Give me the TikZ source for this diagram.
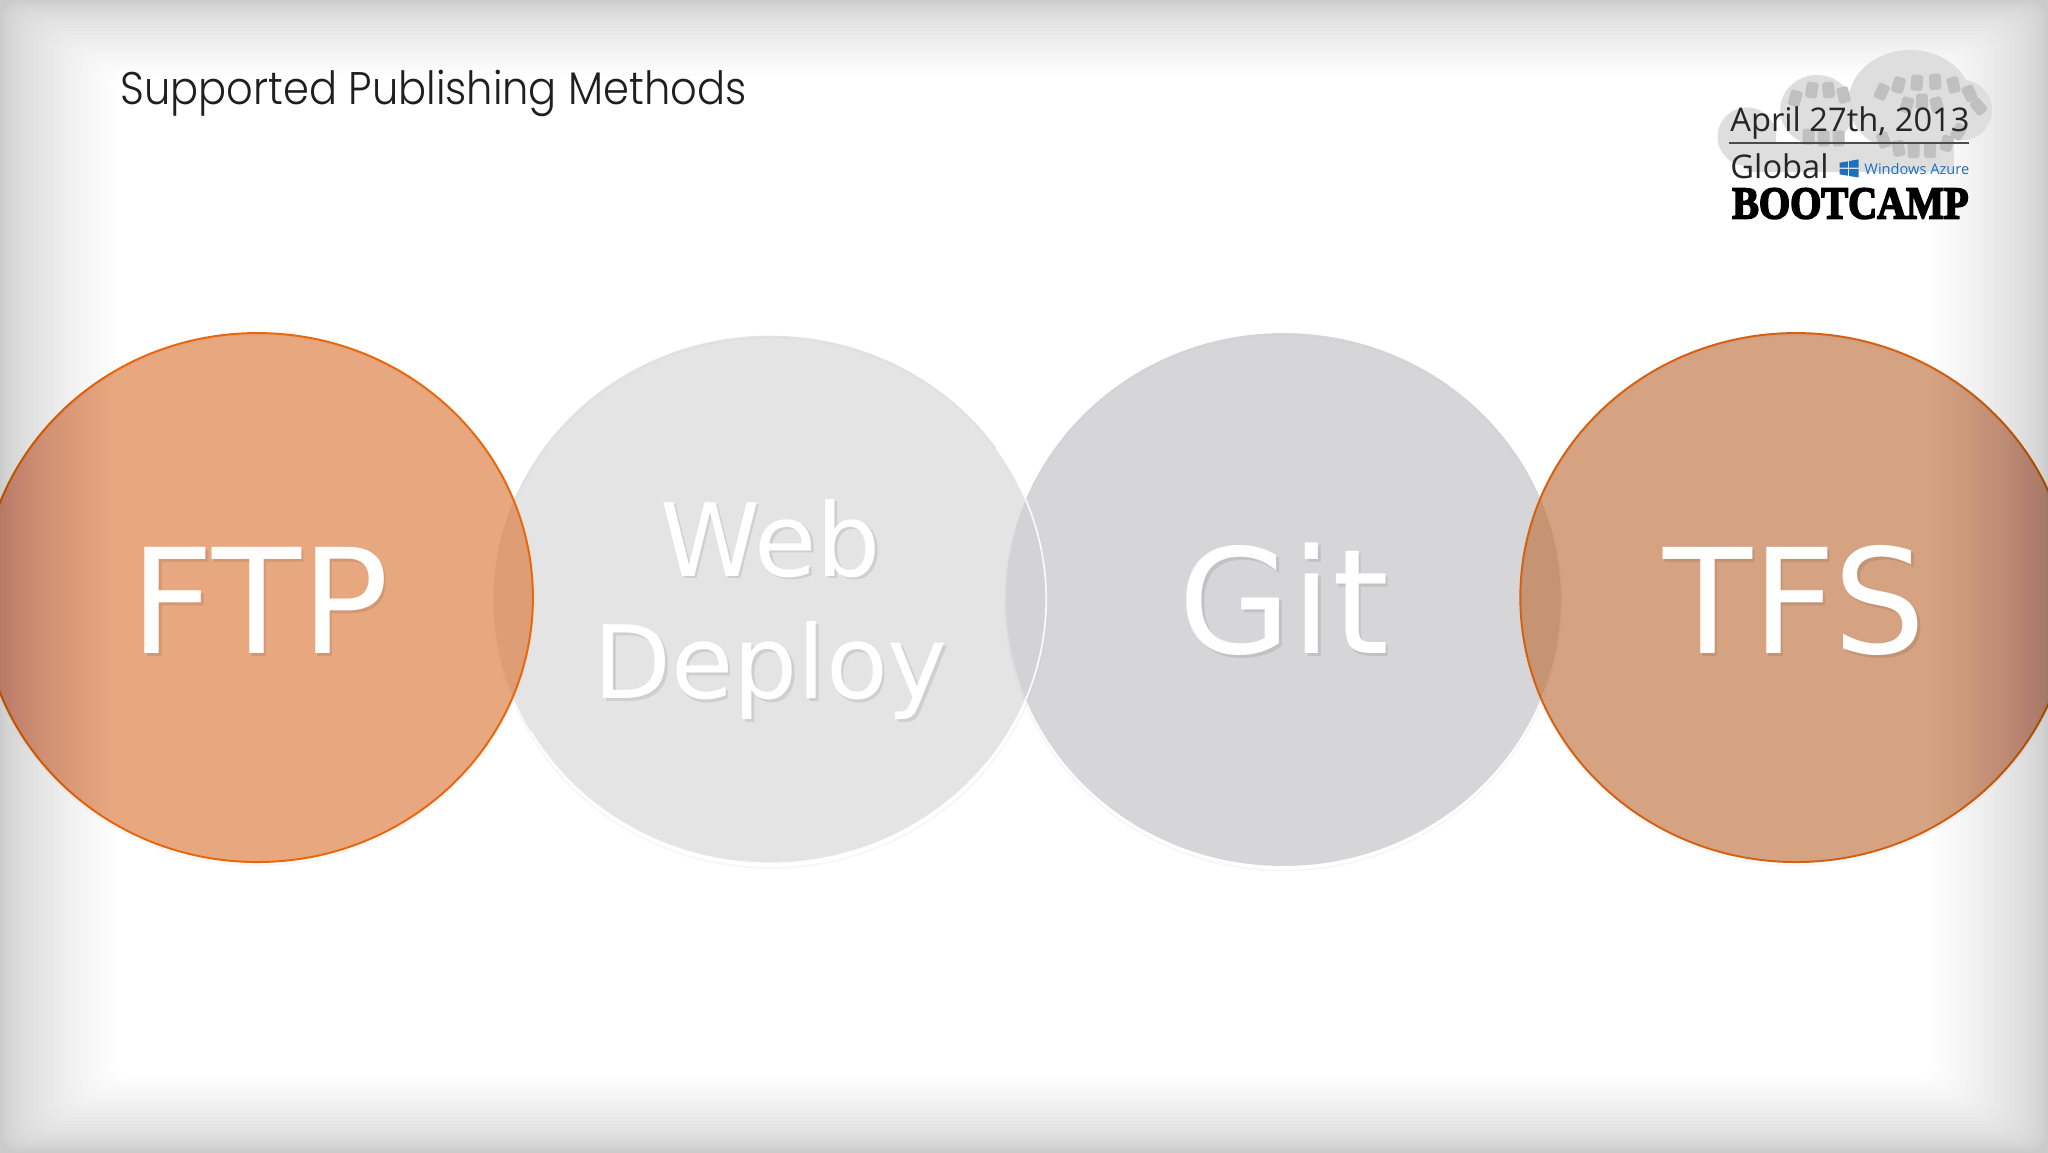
\documentclass[tikz,border=0pt]{standalone}
\usepackage{fontspec}
\usepackage{graphicx}
\usetikzlibrary{shapes.geometric}
\setmainfont{Open Sans}
\newfontfamily\bigfont{DejaVu Sans}
\newfontfamily\titlefont{Poppins Light}
\newfontfamily\bootfont[FakeBold=4]{Liberation Serif Bold}
\definecolor{ftpfill}{RGB}{218,110,43}
\definecolor{tfsfill}{RGB}{188,103,47}
\definecolor{webfill}{RGB}{210,210,213}
\definecolor{gitfill}{RGB}{188,188,192}
\definecolor{ftpline}{RGB}{232,102,12}
\definecolor{tfsline}{RGB}{212,96,16}
\definecolor{cloudgrey}{RGB}{222,222,222}
\definecolor{padgrey}{RGB}{192,192,192}
\definecolor{azureblue}{RGB}{30,110,190}
\tikzset{
  disc/.style={ellipse,inner sep=0pt,outer sep=0pt,fill opacity=.6},
  bigtext/.style={anchor=base,text=white,inner sep=0pt,font=\bigfont\fontsize{111.5bp}{111.5bp}\selectfont},
  bigshadow/.style={anchor=base,text=black,text opacity=.09,inner sep=0pt,font=\bigfont\fontsize{111.5bp}{111.5bp}\selectfont},
  midtext/.style={anchor=base,text=white,inner sep=0pt,font=\bigfont\fontsize{77.5bp}{77.5bp}\selectfont},
  midshadow/.style={anchor=base,text=black,text opacity=.09,inner sep=0pt,font=\bigfont\fontsize{77.5bp}{77.5bp}\selectfont},
  logotext/.style={anchor=base west,inner sep=0pt,text=black!85,font=\fontsize{25bp}{25bp}\selectfont},
  pad/.style={fill=padgrey,rounded corners=1.5bp}
}
\begin{document}
\begin{tikzpicture}[x=1bp,y=-1bp]
\useasboundingbox (0,0) rectangle (1568,882);
\clip (0,0) rectangle (1568,882);
\fill[white] (0,0) rectangle (1568,882);

% soft shadows under discs
\foreach \cx/\cy/\rx/\ry in {197/458/211/203,590/460/212/203,982.5/460/213/205,1375/458/211/203}
  \draw[black,opacity=.03,line width=1.5bp] (\cx,\cy+1.5) ellipse [x radius=\rx,y radius=\ry];

% discs
\node[disc,fill=gitfill,minimum width=425bp,minimum height=408bp] (git) at (982.5,459) {};
\node[disc,fill=tfsfill,draw=tfsline,line width=1.5bp,minimum width=422bp,minimum height=405bp] (tfs) at (1375,457.5) {};
\node[disc,fill=webfill,minimum width=423bp,minimum height=404bp] (web) at (589.5,459) {};
\node[disc,fill=ftpfill,draw=ftpline,line width=1.5bp,minimum width=422bp,minimum height=405bp] (ftp) at (197,457.5) {};
\draw[white,line width=1.3bp,opacity=.9] ([shift={(-35:211.5 and 202)}]589.5,459) arc [start angle=-35,end angle=150,x radius=211.5,y radius=202];

% disc labels
\node[bigshadow] (ftps) at (201,503) {FTP};
\node[bigtext] (ftpt) at (199,500) {FTP};
\node[bigshadow] (gits) at (985,503) {Git};
\node[bigtext] (gitt) at (983,500) {Git};
\node[bigshadow] (tfss) at (1376,503) {TFS};
\node[bigtext] (tfst) at (1374,500) {TFS};
\node[midshadow] (webs) at (592,443) {Web};
\node[midtext] (webt) at (590,441) {Web};
\node[midshadow] (deps) at (592,537) {Deploy};
\node[midtext] (dept) at (590,535) {Deploy};

% vignette
\foreach \i in {1,...,26}{
  \pgfmathsetmacro{\dx}{88*(\i/26)^1.6}
  \pgfmathsetmacro{\dy}{58*(\i/26)^1.6}
  \fill[black,opacity=.008,even odd rule] (-5,-5) rectangle (1573,887)
    [rounded corners=14bp] (\dx,\dy) rectangle (1568-\dx,882-\dy);
}

% title
\node[anchor=base west,inner sep=0pt,text=black!88,font=\titlefont\fontsize{35bp}{35bp}\selectfont] (title) at (92,80) {\scalebox{.91}[1]{Supported Publishing Methods}};

% logo
\begin{scope}[shift={(1286.4,23)},x=0.2552bp,y=-0.2552bp]
  \fill[cloudgrey] (200,320) ellipse [x radius=88,y radius=88];
  \fill[cloudgrey] (410,240) ellipse [x radius=110,y radius=105];
  \fill[cloudgrey] (690,215) ellipse [x radius=185,y radius=155];
  \fill[cloudgrey] (850,240) ellipse [x radius=85,y radius=90];
  \fill[cloudgrey] (200,340) rectangle (820,425);
  \foreach \x/\y/\r in {345/205/-15,395/180/-8,445/180/5,490/195/15,385/320/0,430/325/0,475/325/0,
     605/185/-25,655/165/-15,710/158/-5,765/155/3,820/165/12,868/190/25,895/230/40,
     680/225/-15,725/215/0,770/225/15,
     610/330/20,655/355/10,700/360/0,750/360/0,800/340/-15,835/305/-30}
    \fill[pad,shift={(\x,\y)},rotate=\r] (-18,-24) rectangle (18,24);

  \node[logotext] (date) at (150,305) {April 27th, 2013};
  \coordinate (ruleL) at (145,338);
  \coordinate (ruleR) at (865,338);
  \draw[black!70,line width=1.5bp] (ruleL) -- (ruleR);
  \node[logotext] (global) at (150,445) {Global};
  \fill[azureblue] (478,398) -- (503,394) -- (503,413) -- (478,413) -- cycle;
  \fill[azureblue] (507,393) -- (535,388) -- (535,413) -- (507,413) -- cycle;
  \fill[azureblue] (478,417) -- (503,417) -- (503,437) -- (478,433) -- cycle;
  \fill[azureblue] (507,417) -- (535,417) -- (535,442) -- (507,438) -- cycle;
  \node[anchor=base west,inner sep=0pt,text=azureblue,font=\fontsize{11.2bp}{11.2bp}\selectfont] (azure) at (552,432) {Windows Azure};
  \node[anchor=base west,inner sep=0pt,text=black] (boot) at (155,565) {\resizebox{181bp}{23bp}{\bootfont BOOTCAMP}};
\end{scope}
\end{tikzpicture}
\end{document}
